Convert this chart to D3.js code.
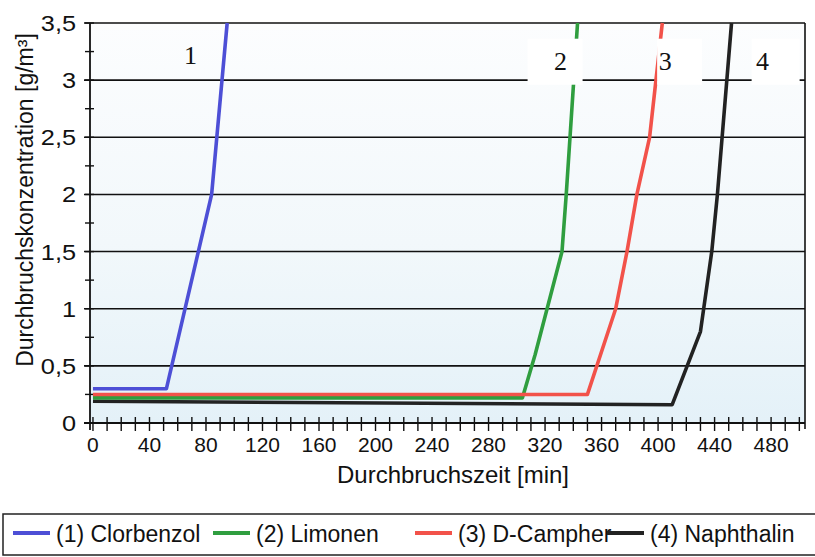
<!DOCTYPE html>
<html>
<head>
<meta charset="utf-8">
<script src="https://cdn.jsdelivr.net/npm/d3@7"></script>
<style>
  body { margin: 0; background: #fff; }
  svg text { font-family: "Liberation Sans", Arial, sans-serif; fill: #111; }
</style>
</head>
<body>
<div id="chart"></div>
<script>
var WIDTH = 815, HEIGHT = 557;

// data: [minutes, g/m3]
var clorbenzol = [[0, 0.30], [52, 0.30], [84, 2.0], [95, 3.5]];
var limonen = [[0, 0.22], [304, 0.22], [313, 0.6], [332, 1.5], [335, 2.0], [343, 3.5]];
var campher = [[0, 0.25], [350, 0.25], [370, 1.0], [378, 1.5], [385, 2.0], [394, 2.5], [403, 3.5]];
var naphthalin = [[0, 0.19], [410, 0.16], [430, 0.8], [438, 1.5], [442, 2.0], [452, 3.5]];

var seriesNames = ["(1) Clorbenzol", "(2) Limonen", "(3) D-Campher", "(4) Naphthalin"];
var seriesColors = ["#4d4fd6", "#2f9e3f", "#f2524a", "#222222"];
var seriesLabels = ["1", "2", "3", "4"];
var labelAt = [[69, 3.22], [331, 3.17], [405, 3.17], [474, 3.17]];

var xTicks = d3.range(0, 510, 10);
var xLabels = d3.range(0, 520, 40).filter(function(v) { return v <= 480; });
var yGrid = d3.range(0, 3.51, 0.5);
var yMinor = d3.range(0, 3.51, 0.25);

var x = d3.scaleLinear().domain([-2.1, 504]).range([90, 805]),
    y = d3.scaleLinear().domain([0, 3.5]).range([423, 23]),
    fmt = function(v) { return String(v).replace(".", ","); };

// widen glyphs a bit, the scan has a broader face than Liberation Sans
function stretch(sel, k) {
  sel.each(function() {
    var w = this.getComputedTextLength();
    d3.select(this).attr("textLength", w * k).attr("lengthAdjust", "spacingAndGlyphs");
  });
}

var svg = d3.select("#chart").append("svg")
  .attr("width", WIDTH)
  .attr("height", HEIGHT);

// plot background, light blue toward the bottom
var grad = svg.append("defs").append("linearGradient")
  .attr("id", "bg").attr("x1", 0).attr("y1", 0).attr("x2", 0).attr("y2", 1);
grad.append("stop").attr("offset", "0%").attr("stop-color", "#fcfdfe");
grad.append("stop").attr("offset", "55%").attr("stop-color", "#f2f8fb");
grad.append("stop").attr("offset", "100%").attr("stop-color", "#e4f1f8");

svg.append("rect")
  .attr("x", x.range()[0]).attr("y", y(3.5))
  .attr("width", x.range()[1] - x.range()[0])
  .attr("height", y(0) - y(3.5))
  .attr("fill", "url(#bg)");

// horizontal gridlines
svg.append("g").selectAll("line").data(yGrid.filter(function(v) { return v > 0; }))
  .enter().append("line")
  .attr("x1", x.range()[0] - 6).attr("x2", x.range()[1])
  .attr("y1", function(d) { return y(d); }).attr("y2", function(d) { return y(d); })
  .attr("stroke", "#111").attr("stroke-width", 1.6);

// minor y ticks
svg.append("g").selectAll("line").data(yMinor)
  .enter().append("line")
  .attr("x1", x.range()[0] - 5).attr("x2", x.range()[0] + 4)
  .attr("y1", function(d) { return y(d); }).attr("y2", function(d) { return y(d); })
  .attr("stroke", "#111").attr("stroke-width", 1.4);

// y axis + right border
svg.append("line")
  .attr("x1", x.range()[0]).attr("x2", x.range()[0])
  .attr("y1", y(3.5)).attr("y2", y(0) + 7)
  .attr("stroke", "#111").attr("stroke-width", 1.8);
svg.append("line")
  .attr("x1", x.range()[1]).attr("x2", x.range()[1])
  .attr("y1", y(3.5)).attr("y2", y(0) + 6)
  .attr("stroke", "#111").attr("stroke-width", 1.6);

// x axis with cross ticks
svg.append("line")
  .attr("x1", x.range()[0] - 6).attr("x2", x.range()[1])
  .attr("y1", y(0)).attr("y2", y(0))
  .attr("stroke", "#111").attr("stroke-width", 1.8);
svg.append("g").selectAll("line").data(xTicks)
  .enter().append("line")
  .attr("x1", function(d) { return x(d); }).attr("x2", function(d) { return x(d); })
  .attr("y1", y(0) - 6).attr("y2", y(0) + 8)
  .attr("stroke", "#111").attr("stroke-width", 1.4);

// tick labels
svg.append("g").selectAll("text").data(xLabels)
  .enter().append("text")
  .attr("x", function(d) { return x(d); })
  .attr("y", y(0) + 29)
  .attr("text-anchor", "middle")
  .attr("font-size", 20)
  .text(function(d) { return d; })
  .call(stretch, 1.05);

svg.append("g").selectAll("text").data(yGrid)
  .enter().append("text")
  .attr("x", 76)
  .attr("y", function(d) { return y(d) + 8; })
  .attr("text-anchor", "end")
  .attr("font-size", 22)
  .text(fmt)
  .call(stretch, 1.15);

// axis titles
svg.append("text")
  .attr("x", 453).attr("y", 483)
  .attr("text-anchor", "middle")
  .attr("font-size", 24)
  .text("Durchbruchszeit [min]");

svg.append("text")
  .attr("transform", "translate(33," + 200 + ") rotate(-90)")
  .attr("text-anchor", "middle")
  .attr("font-size", 23)
  .text("Durchbruchskonzentration [g/m³]");

// curves
var line = d3.line()
  .x(function(d) { return x(d[0]); })
  .y(function(d) { return y(d[1]); });

var allSeries = [clorbenzol, limonen, campher, naphthalin];
var order = [3, 1, 2, 0];
svg.append("g").selectAll("path").data(order)
  .enter().append("path")
  .attr("d", function(i) { return line(allSeries[i]); })
  .attr("fill", "none")
  .attr("stroke", function(i) { return seriesColors[i]; })
  .attr("stroke-width", 3.6)
  .attr("stroke-linejoin", "round");

// curve number labels on white patches (patches sit over the curves, as in the scan)
var patch = [null, [-33, 55], [-8, 45], [-11, 48]];
var lab = svg.append("g").selectAll("g").data(seriesLabels)
  .enter().append("g")
  .attr("transform", function(d, i) { return "translate(" + x(labelAt[i][0]) + "," + y(labelAt[i][1]) + ")"; });
lab.filter(function(d, i) { return i > 0; }).append("rect")
  .attr("x", function(d) { return patch[+d - 1][0]; })
  .attr("y", -22).attr("height", 46)
  .attr("width", function(d) { return patch[+d - 1][1]; })
  .attr("fill", "#fff");
lab.append("text")
  .attr("text-anchor", "middle")
  .attr("y", 9)
  .attr("font-size", 26)
  .style("font-family", "'Liberation Serif', 'DejaVu Serif', serif")
  .text(function(d) { return d; });

// legend
var legendX = [13, 213, 415, 607];
svg.append("rect")
  .attr("x", 3).attr("y", 514).attr("width", 830).attr("height", 41)
  .attr("fill", "#fff").attr("stroke", "#222").attr("stroke-width", 1.5);
var leg = svg.append("g").selectAll("g").data(seriesNames)
  .enter().append("g")
  .attr("transform", function(d, i) { return "translate(" + legendX[i] + ",533)"; });
leg.append("line")
  .attr("x1", 0).attr("x2", 37)
  .attr("stroke", function(d, i) { return seriesColors[i]; })
  .attr("stroke-width", 4);
leg.append("text")
  .attr("x", 43).attr("y", 9)
  .attr("font-size", 23)
  .text(function(d) { return d; });
</script>
</body>
</html>
